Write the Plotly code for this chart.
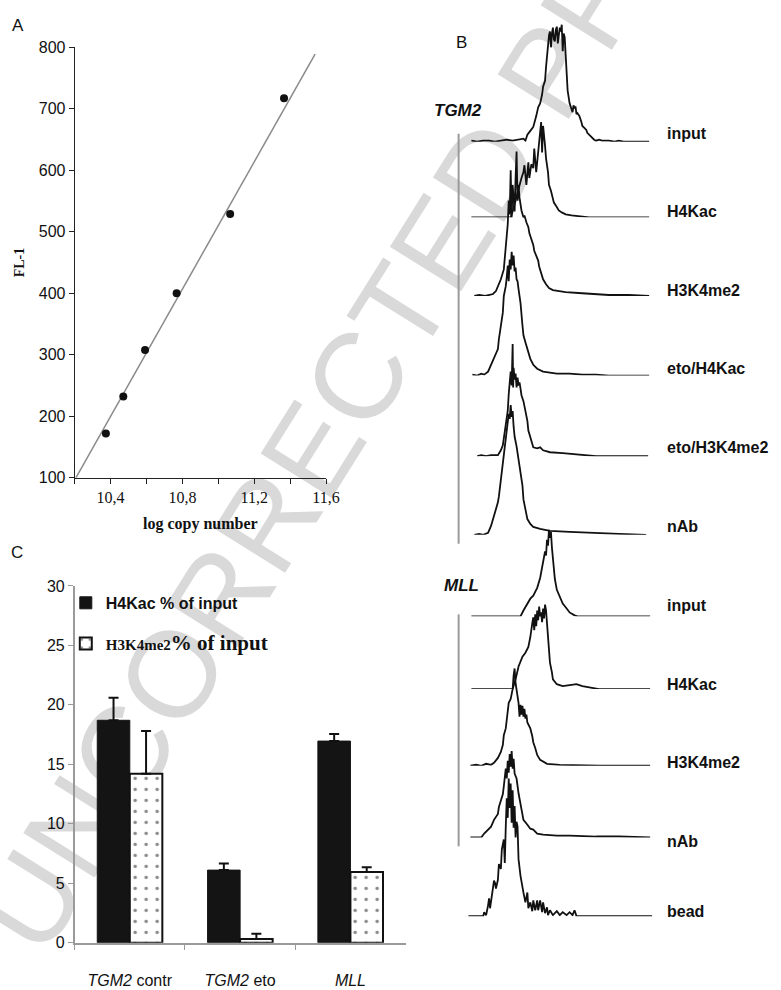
import plotly.graph_objects as go

W, H = 781, 990

# ---------------- Panel A: standard curve ----------------
copy_log = [10.374, 10.471, 10.592, 10.768, 11.066, 11.366]
fl1 = [172, 232, 308, 400, 529, 717]
fit_x = [10.207, 11.539]
fit_y = [100, 789]
a_xticks = [10.2, 10.4, 10.6, 10.8, 11.0, 11.2, 11.4, 11.6]
a_xticktext = ["", "10,4", "", "10,8", "", "11,2", "", "11,6"]
a_yticks = [100, 200, 300, 400, 500, 600, 700, 800]

# ---------------- Panel C: ChIP bars ----------------
categories = ["<i>TGM2</i> contr", "<i>TGM2</i> eto", "<i>MLL</i>"]
h4kac = [18.7, 6.1, 16.95]
h4kac_err = [1.9, 0.56, 0.6]
h3k4me2 = [14.2, 0.3, 5.95]
h3k4me2_err = [3.6, 0.45, 0.4]
c_yticks = [0, 5, 10, 15, 20, 25, 30]

# ---------------- Panel B: flow histograms (channel, count) ----------------
tgm2_input_ch = [0, 6, 12, 18, 24, 30, 36, 42, 48, 53, 55, 57, 60, 63, 66, 68, 70, 72, 73, 75, 76, 77, 78, 79, 80, 81, 82, 83, 84, 85, 86, 87, 88, 89, 90, 91, 92, 93, 94, 95, 96, 97, 98, 100, 102, 103, 104, 105, 106, 107, 108, 110, 112, 113, 115, 117, 118, 120, 122, 123, 125, 127, 130, 133, 140, 146, 150, 155, 181]
tgm2_input_ct = [1, 0, 1, 1, 0, 1, 2, 1, 2, 3, 1, 7, 11, 15, 26, 35, 39, 48, 56, 62, 76, 88, 96, 108, 112, 96, 110, 116, 104, 102, 114, 117, 100, 108, 116, 112, 119, 92, 110, 106, 88, 69, 52, 39, 32, 30, 37, 34, 36, 28, 29, 26, 20, 16, 14, 12, 9, 7, 4, 3, 2, 1, 2, 1, 1, 0, 1, 0, 0]

tgm2_h4kac_ch = [0, 40, 42, 44, 46, 48, 49, 51, 53, 54, 56, 58, 59, 61, 63, 64, 66, 68, 69, 71, 72, 73, 75, 76, 78, 79, 81, 83, 84, 86, 89, 92, 96, 102, 110, 120, 181]
tgm2_h4kac_ct = [0, 0, 6, 14, 22, 30, 33, 40, 46, 53, 33, 56, 40, 54, 50, 70, 46, 66, 76, 97, 66, 93, 73, 60, 46, 33, 27, 18, 15, 12, 7, 5, 3, 2, 1, 0, 0]

tgm2_h3k4_ch = [3, 8, 14, 20, 22, 25, 28, 30, 33, 34, 35, 36, 37, 38, 39, 40, 41, 42, 43, 44, 45, 46, 47, 48, 49, 51, 53, 54, 56, 58, 59, 61, 63, 64, 66, 68, 69, 71, 73, 76, 79, 83, 89, 96, 109, 123, 140, 160, 181]
tgm2_h3k4_ct = [0, 1, 0, 1, 2, 5, 12, 17, 27, 37, 50, 63, 73, 97, 83, 128, 80, 113, 95, 86, 120, 147, 97, 113, 100, 87, 80, 82, 75, 70, 64, 58, 52, 46, 40, 36, 30, 23, 17, 12, 8, 6, 5, 4, 3, 2, 1, 1, 0]

tgm2_eto_h4kac_ch = [1, 6, 10, 13, 17, 20, 23, 27, 28, 30, 32, 33, 35, 36, 37, 38, 39, 40, 41, 42, 43, 44, 45, 46, 47, 48, 50, 52, 53, 55, 57, 60, 63, 67, 73, 80, 87, 100, 113, 127, 140, 181]
tgm2_eto_h4kac_ct = [1, 0, 2, 1, 4, 11, 17, 27, 37, 51, 64, 81, 91, 100, 112, 96, 118, 108, 126, 112, 122, 106, 110, 98, 96, 88, 74, 51, 41, 34, 27, 17, 11, 7, 4, 3, 2, 2, 1, 1, 0, 0]

tgm2_eto_h3k4_ch = [6, 10, 15, 20, 27, 30, 32, 35, 37, 38, 39, 40, 41, 42, 42.5, 43, 44, 45, 46, 47, 48, 49, 50, 51, 53, 55, 57, 58, 60, 63, 67, 70, 73, 80, 93, 107, 115, 127, 180]
tgm2_eto_h3k4_ct = [0, 1, 0, 1, 1, 6, 11, 33, 46, 63, 75, 86, 72, 114, 70, 90, 78, 84, 70, 80, 72, 75, 69, 62, 56, 45, 36, 26, 19, 9, 8, 9, 6, 4, 3, 2, 1, 0, 0]

tgm2_nab_ch = [3, 8, 12, 17, 20, 23, 27, 28, 30, 32, 34, 36, 38, 39, 40, 41, 42, 43, 44, 46, 48, 50, 52, 53, 55, 57, 60, 63, 70, 80, 100, 120, 150, 178]
tgm2_nab_ct = [0, 1, 0, 2, 9, 19, 33, 39, 56, 73, 89, 106, 123, 118, 132, 120, 126, 110, 100, 90, 76, 62, 50, 36, 25, 16, 11, 8, 6, 4, 3, 2, 1, 0]

mll_input_ch = [0, 50, 53, 57, 60, 63, 67, 70, 72, 73, 75, 76, 77, 78, 79, 80, 81, 82, 83, 85, 87, 90, 93, 97, 100, 105, 108, 182]
mll_input_ct = [0, 0, 6, 13, 18, 21, 29, 39, 49, 56, 66, 62, 78, 72, 88, 80, 86, 70, 57, 38, 27, 19, 13, 8, 4, 1, 0, 0]

mll_h4kac_ch = [0, 42, 45, 48, 52, 55, 58, 60, 62, 63, 64, 65, 66, 67, 68, 69, 70, 71, 72, 73, 74, 75, 76, 77, 78, 80, 82, 83, 87, 93, 100, 107, 113, 127, 130, 182]
mll_h4kac_ct = [0, 0, 10, 23, 33, 37, 43, 53, 67, 73, 60, 76, 64, 80, 70, 84, 74, 78, 68, 82, 72, 86, 80, 66, 50, 27, 17, 10, 5, 3, 4, 5, 3, 1, 0, 0]

mll_h3k4_ch = [-1, 5, 10, 15, 20, 23, 27, 30, 32, 33, 35, 37, 38, 40, 42, 43, 44, 45, 46, 47, 48, 49, 50, 51, 52, 53, 54, 55, 56, 57, 58, 60, 62, 63, 65, 67, 70, 73, 77, 90, 130, 182]
mll_h3k4_ct = [0, 1, 0, 2, 1, 3, 8, 14, 21, 31, 38, 54, 64, 68, 78, 92, 99, 84, 78, 68, 64, 50, 62, 52, 61, 50, 58, 48, 52, 44, 42, 38, 30, 24, 18, 11, 6, 4, 2, 1, 0, 0]

mll_nab_ch = [-1, 10, 13, 17, 20, 23, 27, 28, 30, 32, 33, 34, 35, 36, 37, 38, 39, 40, 41, 42, 43, 44, 46, 48, 50, 52, 53, 57, 60, 63, 67, 73, 87, 100, 127, 150, 182]
mll_nab_ct = [0, 0, 4, 8, 11, 18, 24, 31, 38, 44, 52, 62, 70, 60, 78, 66, 85, 72, 88, 70, 80, 65, 60, 45, 34, 24, 18, 13, 9, 8, 4, 3, 2, 2, 1, 1, 0]

bead_ch = [-3, 12, 13, 15, 17, 18, 19, 21, 23, 24, 25, 27, 28, 30, 31, 33, 34, 35, 36, 37, 38, 39, 40, 41, 42, 43, 44, 45, 46, 47, 48, 50, 52, 53, 55, 57, 58, 60, 62, 63, 65, 67, 68, 70, 72, 73, 75, 77, 78, 80, 83, 87, 90, 93, 97, 100, 103, 105, 107, 185]
bead_ct = [0, 0, 4, 1, 11, 18, 8, 21, 36, 34, 28, 37, 53, 48, 68, 78, 54, 91, 120, 100, 140, 110, 135, 95, 128, 90, 112, 80, 96, 91, 58, 41, 28, 24, 14, 24, 8, 14, 5, 16, 6, 16, 6, 16, 4, 14, 3, 9, 1, 6, 1, 5, 1, 4, 1, 4, 1, 6, 0, 0]

hist_labels = ["input", "H4Kac", "H3K4me2", "eto/H4Kac", "eto/H3K4me2", "nAb",
               "input", "H4Kac", "H3K4me2", "nAb", "bead"]
hist_channels = [tgm2_input_ch, tgm2_h4kac_ch, tgm2_h3k4_ch, tgm2_eto_h4kac_ch, tgm2_eto_h3k4_ch,
                 tgm2_nab_ch, mll_input_ch, mll_h4kac_ch, mll_h3k4_ch, mll_nab_ch, bead_ch]
hist_counts = [tgm2_input_ct, tgm2_h4kac_ct, tgm2_h3k4_ct, tgm2_eto_h4kac_ct, tgm2_eto_h3k4_ct,
               tgm2_nab_ct, mll_input_ct, mll_h4kac_ct, mll_h3k4_ct, mll_nab_ct, bead_ct]

# ---------------- layout helpers (pixel positions) ----------------
hist_baseline_px = [136, 213, 293, 374, 456, 536, 619, 693, 771, 844, 924]
hist_label_px = [128, 207, 287, 367, 447, 528, 608, 688, 768, 848, 919]


def px_x(p):
    return p / W


def px_y(p):
    return 1 - p / H


SANS = "Liberation Sans"
SERIF = "Liberation Serif"
INK = "#111111"

fig = go.Figure()

# Panel A
fig.add_trace(go.Scatter(x=fit_x, y=fit_y, mode="lines", line=dict(color="#8a8a8a", width=1.5),
                         xaxis="x", yaxis="y", showlegend=False, hoverinfo="skip"))
fig.add_trace(go.Scatter(x=copy_log, y=fl1, mode="markers", marker=dict(color=INK, size=8),
                         xaxis="x", yaxis="y", showlegend=False))

# Panel C
fig.add_trace(go.Bar(
    x=categories, y=h4kac, name="<b>H4Kac % of input</b>", legendgroup="a",
    marker=dict(color="#141414", line=dict(color="#141414", width=1)),
    error_y=dict(type="data", array=h4kac_err, arrayminus=[0] * len(h4kac_err), symmetric=False,
                 color=INK, thickness=2, width=5),
    xaxis="x2", yaxis="y2"))
fig.add_trace(go.Bar(
    x=categories, y=h3k4me2, legendgroup="b",
    name=("<span style='font-family:Liberation Serif;font-size:15px'><b>H3K4me2</b></span>"
          "<span style='font-family:Liberation Serif;font-size:21px'><b>% of input</b></span>"),
    marker=dict(color="white", line=dict(color=INK, width=2),
                pattern=dict(shape=".", fgcolor="#111111", bgcolor="white", size=11, solidity=0.08)),
    error_y=dict(type="data", array=h3k4me2_err, arrayminus=[0] * len(h3k4me2_err), symmetric=False,
                 color=INK, thickness=2, width=5),
    xaxis="x2", yaxis="y2"))

# Panel B
for i in range(len(hist_counts)):
    fig.add_trace(go.Scatter(x=hist_channels[i], y=hist_counts[i], mode="lines",
                             line=dict(color=INK, width=1.8), xaxis="x3", yaxis=f"y{i + 3}",
                             showlegend=False, name=hist_labels[i]))

layout = dict(
    width=W, height=H, margin=dict(l=0, r=0, t=0, b=0),
    paper_bgcolor="white", plot_bgcolor="rgba(0,0,0,0)",
    barmode="group", bargap=0.41, bargroupgap=0,
    font=dict(family=SANS, color=INK),
    showlegend=True,
    legend=dict(x=px_x(67), y=px_y(588), xanchor="left", yanchor="top", bgcolor="rgba(0,0,0,0)",
                font=dict(family=SANS, size=16, color=INK), tracegroupgap=17, traceorder="grouped"),
    xaxis=dict(domain=[px_x(76), px_x(332)], range=[10.2, 11.6], anchor="y",
               tickvals=a_xticks, ticktext=a_xticktext, ticks="outside", ticklen=5, tickcolor="#222",
               showline=True, linecolor="#222", linewidth=1, showgrid=False, zeroline=False,
               tickfont=dict(family=SERIF, size=16, color=INK),
               title=dict(text="<b>log copy number</b>", font=dict(family=SERIF, size=16, color=INK), standoff=12)),
    yaxis=dict(domain=[px_y(478), px_y(40)], range=[100, 800], anchor="x",
               tickvals=a_yticks, ticks="outside", ticklen=5, tickcolor="#222",
               showline=True, linecolor="#222", linewidth=1, showgrid=False, zeroline=False,
               tickfont=dict(family=SANS, size=16, color=INK),
               title=dict(text="<b>FL-1</b>", font=dict(family=SERIF, size=14, color=INK), standoff=10)),
    xaxis2=dict(domain=[px_x(76), px_x(413)], anchor="y2", showline=True, linecolor="#9a9a9a", linewidth=1.5,
                ticks="outside", tickson="boundaries", ticklen=6, tickcolor="#9a9a9a", showgrid=False,
                tickfont=dict(family=SANS, size=16, color=INK), ticklabelstandoff=22),
    yaxis2=dict(domain=[px_y(951), px_y(588)], range=[0, 30], anchor="x2", tickvals=c_yticks,
                showline=True, linecolor="#9a9a9a", linewidth=1.5, ticks="outside", ticklen=5,
                tickcolor="#9a9a9a", showgrid=False, zeroline=False,
                tickfont=dict(family=SANS, size=16, color=INK)),
    xaxis3=dict(domain=[px_x(476), px_x(664)], range=[-4, 184], visible=False, anchor="y3"),
)
for i, b in enumerate(hist_baseline_px):
    r = min(160, b - 4)
    layout[f"yaxis{i + 3}"] = dict(domain=[(H - b) / H, (H - b + r) / H], range=[0, r],
                                   visible=False, anchor="x3")
fig.update_layout(**layout)

# Text annotations
ann = []
for txt, x, y in [("A", 18, 18), ("B", 470, 35), ("C", 17, 554)]:
    ann.append(dict(text=txt, x=px_x(x), y=px_y(y), xref="paper", yref="paper", showarrow=False,
                    xanchor="center", yanchor="middle",
                    font=dict(family=SANS, size=17, color=INK)))
for txt, x, y in [("<b><i>TGM2</i></b>", 466, 104), ("<b><i>MLL</i></b>", 470, 588)]:
    ann.append(dict(text=txt, x=px_x(x), y=px_y(y), xref="paper", yref="paper", showarrow=False,
                    xanchor="center", yanchor="middle",
                    font=dict(family=SANS, size=17, color=INK)))
for lab, ly in zip(hist_labels, hist_label_px):
    ann.append(dict(text=f"<b>{lab}</b>", x=px_x(677), y=px_y(ly), xref="paper", yref="paper",
                    xanchor="left", yanchor="middle", showarrow=False,
                    font=dict(family=SANS, size=16, color=INK)))
fig.update_layout(annotations=ann)

# Bracket lines in panel B
for y0, y1 in [(128, 545), (617, 853)]:
    fig.add_shape(type="line", xref="paper", yref="paper", x0=px_x(467), x1=px_x(467),
                  y0=px_y(y0), y1=px_y(y1), line=dict(color="#9a9a9a", width=2))

# Proof watermark (behind everything)
cx, cy = 379, 329
fig.add_shape(type="line", xref="paper", yref="paper", layer="below",
              x0=px_x(cx - 53), y0=px_y(cy + 85), x1=px_x(cx + 53), y1=px_y(cy - 85),
              line=dict(color="rgba(0,0,0,0)", width=0),
              label=dict(text="UNCORRECTED PROOF", textposition="middle", textangle=-58,
                         yanchor="middle", font=dict(family=SANS, size=122, color="#d9d9d9")))

fig.write_html("out.html", config={"displayModeBar": False},
               post_script="document.body.style.margin='0px';")
